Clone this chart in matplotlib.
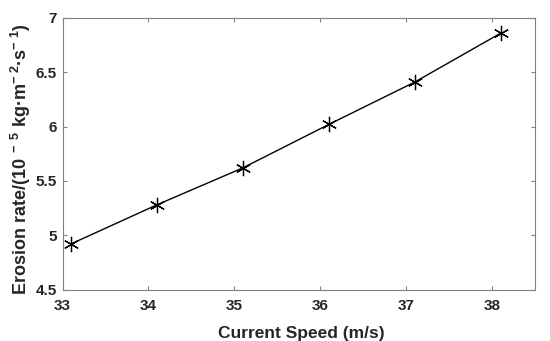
import matplotlib
matplotlib.use("Agg")
import matplotlib.pyplot as plt

speed = [33.1, 34.1, 35.1, 36.1, 37.1, 38.1]
erosion = [4.92, 5.28, 5.62, 6.02, 6.41, 6.86]
xticks = [33, 34, 35, 36, 37, 38]
yticks = [4.5, 5, 5.5, 6, 6.5, 7]
ytick_labels = ['4.5', '5', '5.5', '6', '6.5', '7']

plt.rcParams['font.family'] = ['Liberation Sans', 'DejaVu Sans']
plt.rcParams['mathtext.fontset'] = 'custom'
plt.rcParams['mathtext.rm'] = 'Liberation Sans:bold'
plt.rcParams['mathtext.it'] = 'Liberation Sans:bold'
plt.rcParams['mathtext.bf'] = 'Liberation Sans:bold'
plt.rcParams['mathtext.sf'] = 'Liberation Sans:bold'

txt = '#262626'
axc = '#808080'

fig = plt.figure(figsize=(5.5, 3.41), dpi=100)
ax = fig.add_axes([62.5/550, 1-289.5/341, 472.5/550, 271.5/341])
ax.plot(speed, erosion, color='black', lw=1, marker=(6, 2, 0), ms=11, mew=0.9)
ax.set_xlim(33, 38.5)
ax.set_ylim(4.5, 7)
ax.set_xticks(xticks)
ax.set_yticks(yticks)
ax.set_xticklabels([str(v) for v in xticks])
ax.set_yticklabels(ytick_labels)
ax.tick_params(direction='in', top=True, right=True, length=3, width=0.8,
               color=axc, labelcolor=txt, labelsize=11)
ax.tick_params(axis='x', pad=7)
ax.tick_params(axis='y', pad=4)
for lab in ax.get_xticklabels() + ax.get_yticklabels():
    lab.set_fontweight('bold')
for s in ax.spines.values():
    s.set_color(axc)
    s.set_linewidth(0.8)
ax.set_xlabel('Current Speed (m/s)', fontsize=12.5, fontweight='bold', color=txt)
ax.xaxis.set_label_coords(0.505, -0.135)
ax.set_ylabel('Erosion rate/(10$^{\\ -\\ 5}$ kg·m$^{-\\ 2}$·s$^{-\\ 1}$)', fontsize=13,
              fontweight='bold', color=txt)
ax.yaxis.set_label_coords(-0.062, 0.48)
fig.savefig('out.png', dpi=100)
